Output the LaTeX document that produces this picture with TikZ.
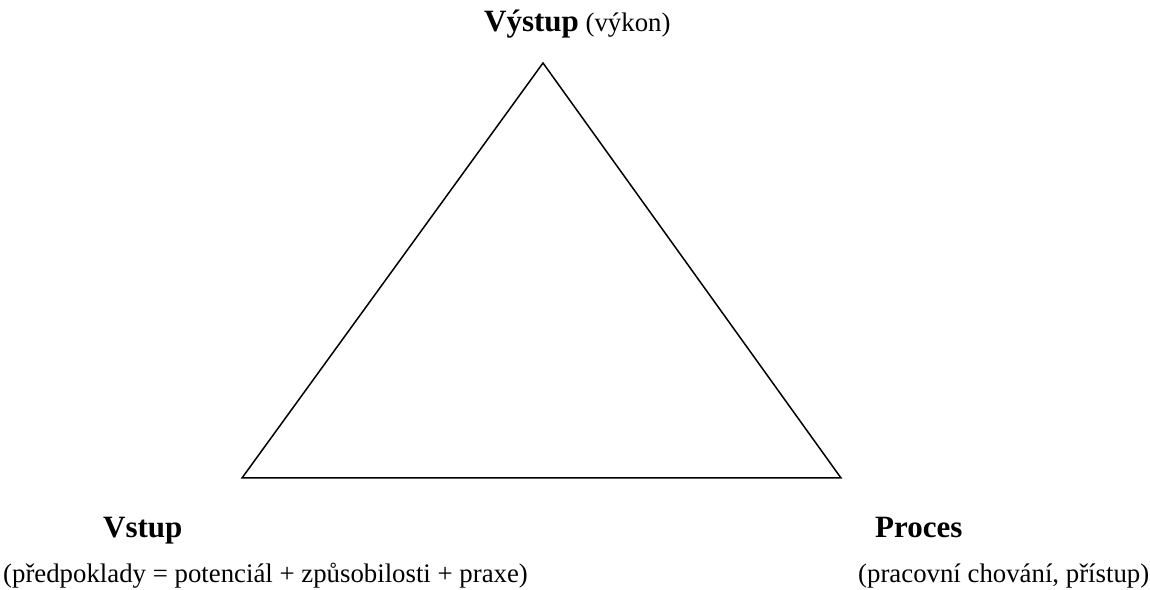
\documentclass[tikz,border=0pt]{standalone}
\usepackage{fontspec}
\setmainfont{Liberation Serif}
\usepackage{tikz}
\newcommand{\bigbold}[1]{{\fontsize{31}{36}\selectfont\bfseries #1}}
\newcommand{\plaintxt}[1]{{\fontsize{26.8}{32}\selectfont #1}}
\tikzset{lbl/.style={inner sep=0pt, anchor=base west}}
\newcommand{\drawedge}{\draw[line width=1.5pt, line join=miter]}

\begin{document}
\begin{tikzpicture}[x=1pt, y=1pt]
\useasboundingbox (0,0) rectangle (1150,589);
\coordinate (apex) at (543,526);
    \coordinate (inleft) at (242,111);
    \coordinate (procright) at (841,111);
\drawedge (apex)--(inleft)--(procright)--cycle;
\node[lbl] (vystup) at (484,557) {\bigbold{Výstup}\plaintxt{\ (výkon)}};
\node[lbl] (vstup) at (103,52) {\bigbold{Vstup}};
\node[lbl] (proces) at (875,52) {\bigbold{Proces}};
\node[lbl] (vstupnote) at (3,7) {\plaintxt{(předpoklady = potenciál + způsobilosti + praxe)}};
\node[lbl] (procesnote) at (858,7) {\plaintxt{(pracovní chování, přístup)}};
\end{tikzpicture}
\end{document}
